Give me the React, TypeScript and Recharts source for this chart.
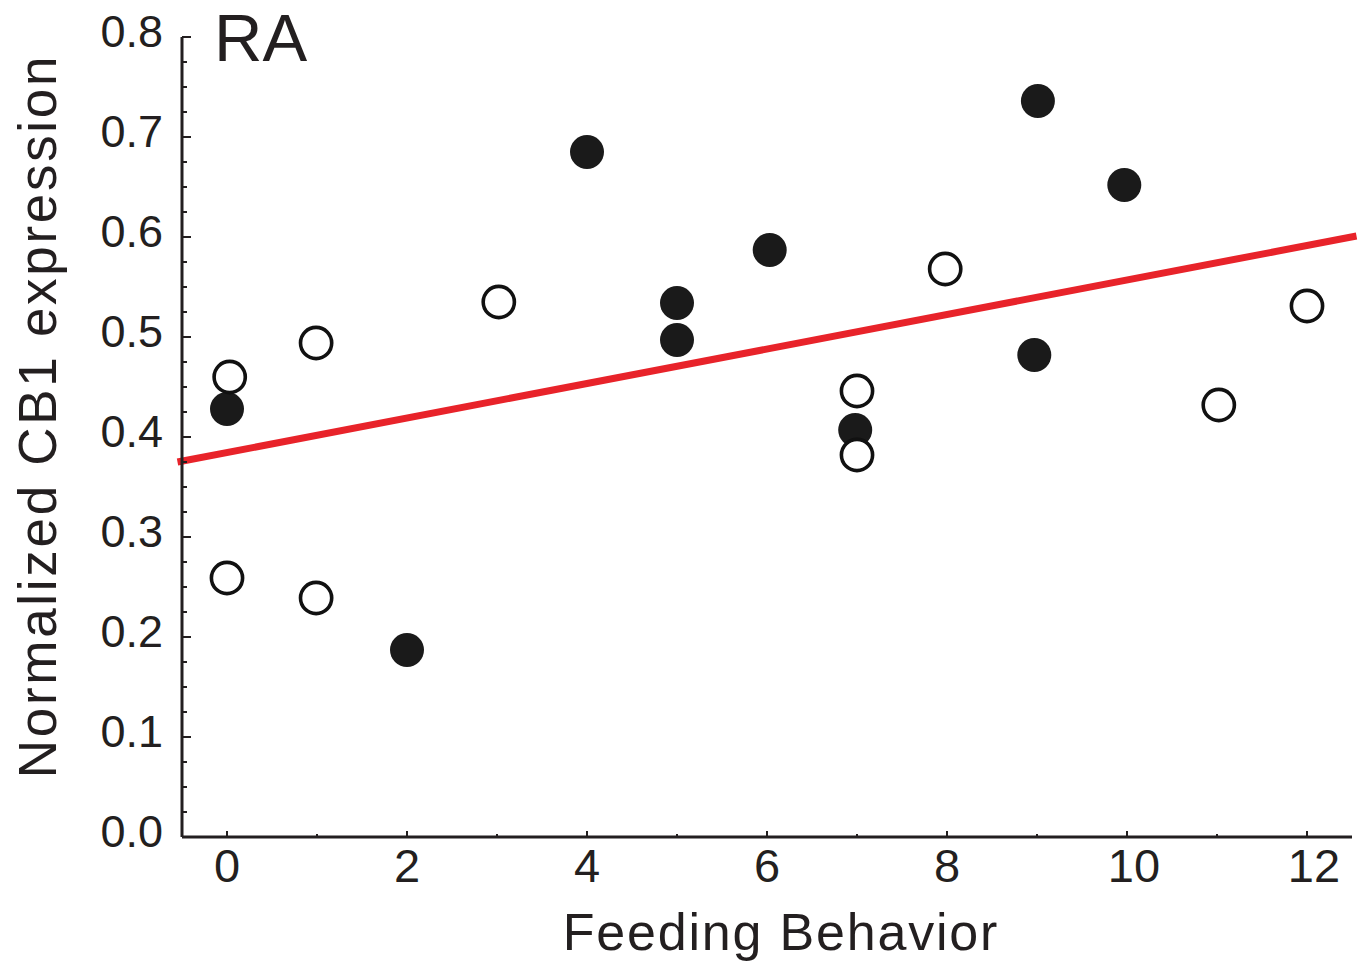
import React from "react";
import { ScatterChart, Scatter, XAxis, YAxis, ReferenceLine } from "recharts";

// ---- data ----
const filledX = [0, 2, 4, 5, 5, 6.03, 6.98, 9.01, 8.97, 9.97];
const filledY = [0.428, 0.187, 0.685, 0.534, 0.497, 0.587, 0.407, 0.736, 0.482, 0.652];
const openX = [0.03, 0, 0.99, 0.99, 3.02, 7, 7, 7.98, 11.02, 12];
const openY = [0.46, 0.259, 0.494, 0.239, 0.535, 0.446, 0.382, 0.568, 0.432, 0.531];
const fitX = [-0.55, 12.55];
const fitY = [0.375, 0.601];
const xTicks = [0, 1, 2, 3, 4, 5, 6, 7, 8, 9, 10, 11, 12];
const xLabelTicks = [0, 2, 4, 6, 8, 10, 12];
const yMajorTicks = [0, 0.1, 0.2, 0.3, 0.4, 0.5, 0.6, 0.7, 0.8];
const yMinorOffsets = [0.025, 0.05, 0.075];

const filledData = filledX.map((x, i) => ({ x, y: filledY[i] }));
const openData = openX.map((x, i) => ({ x, y: openY[i] }));
const yTicks: number[] = [];
yMajorTicks.forEach((t, i) => {
  yTicks.push(t);
  if (i < yMajorTicks.length - 1) yMinorOffsets.forEach((o) => yTicks.push(Number((t + o).toFixed(3))));
});

const FONT = "'Liberation Sans', Arial, Helvetica, sans-serif";
const INK = "#231f20";

const YTick = (props: any) => {
  const { x, y, payload } = props;
  const v: number = payload.value;
  const major = yMajorTicks.some((t) => Math.abs(t - v) < 1e-6);
  return (
    <g>
      <line x1={x} x2={x + (major ? 9 : 5)} y1={y} y2={y} stroke={INK} strokeWidth={2} />
      {major && (
        <text x={x - 19} y={y + 10} textAnchor="end" fontSize={45} fontFamily={FONT} fill={INK}>
          {v.toFixed(1)}
        </text>
      )}
    </g>
  );
};

const XTick = (props: any) => {
  const { x, y, payload } = props;
  const v: number = payload.value;
  const major = xLabelTicks.includes(v);
  const label = String(v);
  return (
    <g>
      <line x1={x} x2={x} y1={y} y2={y - (major ? 6 : 3)} stroke={INK} strokeWidth={2} />
      {major && (
        <text x={x + (label.length > 1 ? 7 : 0)} y={y + 45} textAnchor="middle" fontSize={47} fontFamily={FONT} fill={INK}>
          {label}
        </text>
      )}
    </g>
  );
};

const FilledDot = (props: any) => {
  const { cx, cy } = props;
  return <circle cx={cx} cy={cy} r={17} fill="#1a1a1a" />;
};

const OpenDot = (props: any) => {
  const { cx, cy } = props;
  return <circle cx={cx} cy={cy} r={15.6} fill="#ffffff" stroke="#111111" strokeWidth={3.6} />;
};

export default function App() {
  return (
    <div style={{ position: "absolute", left: 0, top: 0, width: 1368, height: 969, background: "#fff" }}>
      <ScatterChart width={1368} height={969} margin={{ top: 37, right: 16, bottom: 32, left: 32 }}>
        <XAxis
          type="number"
          dataKey="x"
          domain={[-0.5, 12.5]}
          ticks={xTicks}
          allowDataOverflow
          height={100}
          tickLine={false}
          tickSize={0}
          tickMargin={0}
          tick={<XTick />}
          axisLine={{ stroke: INK, strokeWidth: 3 }}
          interval={0}
        />
        <YAxis
          type="number"
          dataKey="y"
          domain={[0, 0.8]}
          ticks={yTicks}
          allowDataOverflow
          width={150}
          tickLine={false}
          tickSize={0}
          tickMargin={0}
          tick={<YTick />}
          axisLine={{ stroke: INK, strokeWidth: 3 }}
          interval={0}
        />
        <ReferenceLine
          segment={[
            { x: fitX[0], y: fitY[0] },
            { x: fitX[1], y: fitY[1] },
          ]}
          stroke="#e8232a"
          strokeWidth={7}
          ifOverflow="visible"
        />
        <Scatter data={filledData} shape={<FilledDot />} isAnimationActive={false} />
        <Scatter data={openData} shape={<OpenDot />} isAnimationActive={false} />
        <text x={214} y={61} fontSize={67} fontFamily={FONT} fill={INK}>
          RA
        </text>
        <text x={781} y={950} fontSize={52} letterSpacing={1.8} textAnchor="middle" fontFamily={FONT} fill={INK}>
          Feeding Behavior
        </text>
        <text
          x={56}
          y={416}
          fontSize={53}
          letterSpacing={2.7}
          textAnchor="middle"
          fontFamily={FONT}
          fill={INK}
          transform="rotate(-90 56 416)"
        >
          Normalized CB1 expression
        </text>
      </ScatterChart>
    </div>
  );
}
